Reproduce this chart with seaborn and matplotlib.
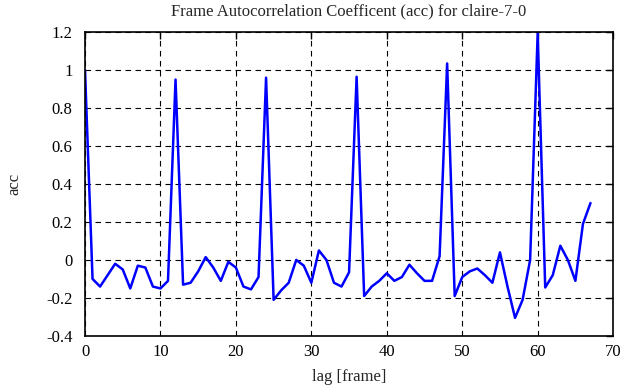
import numpy as np
import pandas as pd
import matplotlib
matplotlib.use("Agg")
import matplotlib.pyplot as plt
import seaborn as sns

# values
lags = list(range(68))
acc = [1.00, -0.10, -0.14, -0.08, -0.02, -0.05, -0.15, -0.03, -0.04, -0.14,
       -0.15, -0.11, 0.95, -0.13, -0.12, -0.06, 0.015, -0.04, -0.11, -0.01,
       -0.04, -0.14, -0.155, -0.09, 0.96, -0.21, -0.16, -0.12, 0.0, -0.03,
       -0.12, 0.05, 0.0, -0.12, -0.14, -0.065, 0.965, -0.19, -0.14, -0.11,
       -0.07, -0.11, -0.09, -0.025, -0.07, -0.11, -0.11, 0.02, 1.035, -0.19,
       -0.09, -0.06, -0.045, -0.08, -0.12, 0.04, -0.14, -0.305, -0.21, 0.0,
       1.195, -0.145, -0.08, 0.075, 0.0, -0.11, 0.19, 0.30]

title = "Frame Autocorrelation Coefficent (acc) for claire-7-0"
xticks = [0, 10, 20, 30, 40, 50, 60, 70]
yticks = [-0.4, -0.2, 0, 0.2, 0.4, 0.6, 0.8, 1, 1.2]
ytick_labels = ["-0.4", "-0.2", "0", "0.2", "0.4", "0.6", "0.8", "1", "1.2"]

df = pd.DataFrame({"lag": lags, "acc": acc})

sns.set_style("white")
plt.rcParams["font.family"] = ["Liberation Serif", "DejaVu Serif"]
plt.rcParams["font.size"] = 12

fig = plt.figure(figsize=(6.25, 3.87), dpi=100)
ax = fig.add_axes([0.136, 0.132, 0.845, 0.785])

sns.lineplot(data=df, x="lag", y="acc", color="#0000ff", linewidth=1.8, ax=ax)

ax.set_xlim(0, 70)
ax.set_ylim(-0.4, 1.2)
ax.set_xticks(xticks)
ax.set_yticks(yticks)
ax.set_yticklabels(ytick_labels)
ax.grid(True, color="black", linestyle=(0, (5, 4)), linewidth=0.8)
ax.tick_params(direction="in", length=5, width=1, top=True, right=True,
               labelsize=12, colors="black")
ax.tick_params(axis="y", pad=9)
ax.tick_params(axis="x", pad=6)
for s in ax.spines.values():
    s.set_color("black")
    s.set_linewidth(1.2)

ax.set_title(title, fontsize=12, pad=12)
ax.set_xlabel("lag [frame]", fontsize=12, labelpad=6)
ax.set_ylabel("acc", fontsize=12, labelpad=17)

fig.savefig("out.png", dpi=100)
